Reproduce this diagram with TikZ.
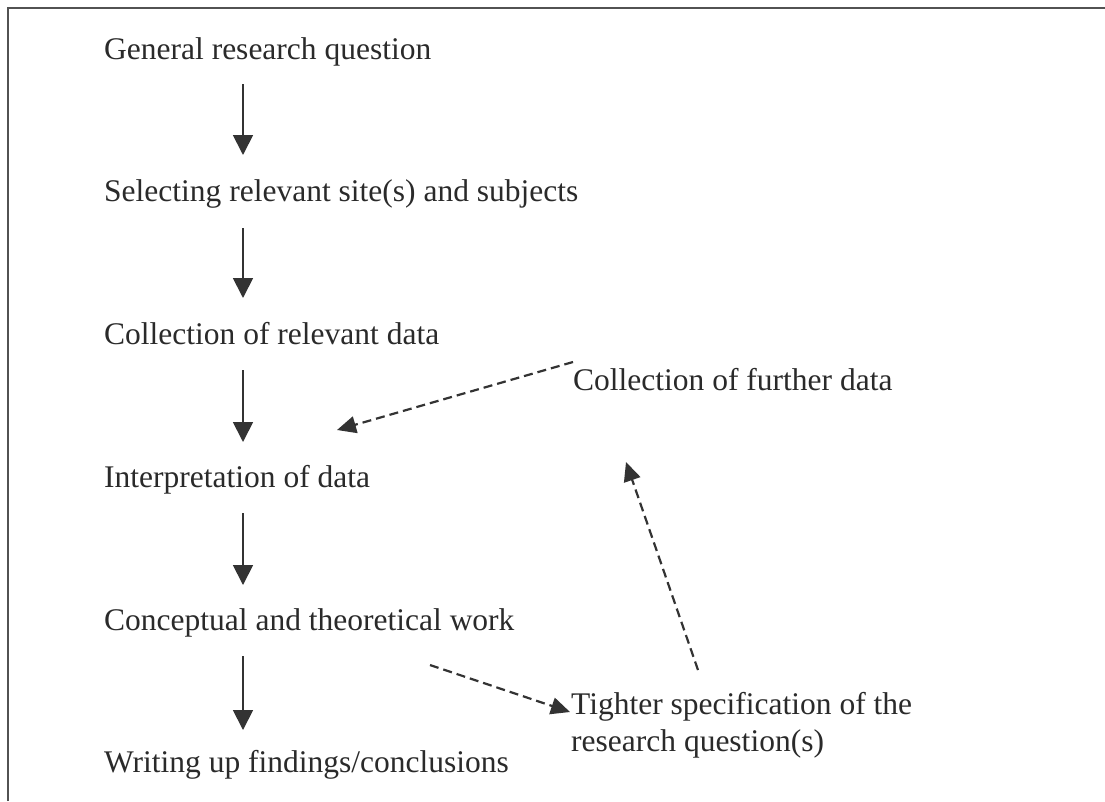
\documentclass[tikz,border=0pt]{standalone}
\usepackage{fontspec}
\setmainfont{Liberation Serif}
\usetikzlibrary{arrows.meta}
\definecolor{ink}{HTML}{333333}
\definecolor{txt}{HTML}{2A2A2A}
\tikzset{
  lbl/.style={anchor=base west, inner sep=0pt, text=txt, font=\fontsize{31.5}{37.5}\selectfont},
  solidarrow/.style={draw=ink, line width=1.8pt, -{Triangle[length=20pt,width=20pt]}},
  dasharrow/.style={draw=ink, line width=2.2pt, dash pattern=on 9pt off 5pt, -{Triangle[length=19pt,width=17pt]}},
  framel/.style={draw=ink!85, line width=2pt}
}
\begin{document}
\begin{tikzpicture}[x=1pt,y=-1pt]
\useasboundingbox (0,0) rectangle (1105,801);
\fill[white] (0,0) rectangle (1105,801);
% frame
\coordinate (fbl) at (8,801);
\coordinate (ftl) at (8,8);
\coordinate (ftr) at (1105,8);
\draw[framel] (fbl) -- (ftl) -- (ftr);
% left column
\node[lbl] (n1) at (104,59) {General research question};
\node[lbl] (n2) at (104,201) {Selecting relevant site(s) and subjects};
\node[lbl] (n3) at (104,344) {Collection of relevant data};
\node[lbl] (n4) at (104,487) {Interpretation of data};
\node[lbl] (n5) at (104,630) {Conceptual and theoretical work};
\node[lbl] (n6) at (104,772) {Writing up findings/conclusions};
% right column
\node[lbl] (f) at (573,390) {Collection of further data};
\node[lbl, align=left, anchor=north west] (t) at (571,692) {Tighter specification of the\\research question(s)};
% arrow end points
\coordinate (a1s) at (243,84);  \coordinate (a1e) at (243,155);
\coordinate (a2s) at (243,228); \coordinate (a2e) at (243,298);
\coordinate (a3s) at (243,370); \coordinate (a3e) at (243,442);
\coordinate (a4s) at (243,513); \coordinate (a4e) at (243,585);
\coordinate (a5s) at (243,656); \coordinate (a5e) at (243,730);
\draw[solidarrow] (a1s) -- (a1e);
\draw[solidarrow] (a2s) -- (a2e);
\draw[solidarrow] (a3s) -- (a3e);
\draw[solidarrow] (a4s) -- (a4e);
\draw[solidarrow] (a5s) -- (a5e);
% dashed feedback arrows
\coordinate (d1s) at (573,362); \coordinate (d1e) at (337,430);
\coordinate (d2s) at (698,670); \coordinate (d2e) at (626,462);
\coordinate (d3s) at (430,665); \coordinate (d3e) at (570,712);
\draw[dasharrow] (d1s) -- (d1e);
\draw[dasharrow] (d2s) -- (d2e);
\draw[dasharrow] (d3s) -- (d3e);
\end{tikzpicture}
\end{document}
